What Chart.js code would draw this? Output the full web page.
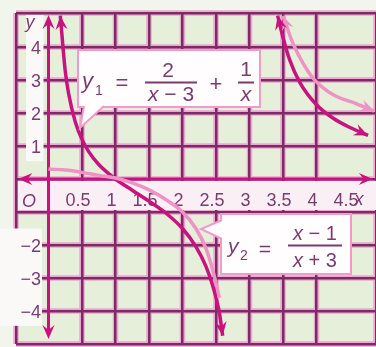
<!DOCTYPE html>
<html>
<head>
<meta charset="utf-8">
<script src="https://cdn.jsdelivr.net/npm/chart.js@4.4.1/dist/chart.umd.min.js"></script>
<style>
  html, body { margin: 0; padding: 0; background: #f1f5ec; }
  canvas { display: block; }
</style>
</head>
<body>
<canvas id="graph" width="376" height="347"></canvas>
<script>
// tick labels
const xTickValues = [0.5, 1, 1.5, 2, 2.5, 3, 3.5, 4, 4.5];
const xTickLabels = ["0.5", "1", "1.5", "2", "2.5", "3", "3.5", "4", "4.5"];
const yTickValues = [4, 3, 2, 1, -2, -3, -4];
const yTickLabels = ["4", "3", "2", "1", "\u22122", "\u22123", "\u22124"];

// axis extents (arrow tips)
const xAxisEnds = [-0.45, 4.84];
const yAxisEnds = [-4.85, 4.97];

// dark curve, y1 (two branches)
const y1LeftX = [0.176, 0.25, 0.3, 0.4, 0.5, 0.6, 0.75, 1, 1.25, 1.5, 1.75, 2, 2.2, 2.35, 2.45, 2.55, 2.6];
const y1LeftY = [4.95, 3.27, 2.59, 1.73, 1.2, 0.83, 0.44, 0, -0.34, -0.67, -1.03, -1.5, -2.05, -2.65, -3.23, -4.05, -4.75];
const y1RightX = [3.42, 3.5, 3.6, 3.75, 4, 4.25, 4.5, 4.77];
const y1RightY = [4.95, 4.29, 3.61, 2.93, 2.25, 1.84, 1.56, 1.32];

// light pink curve (two branches)
const pinkLeftX = [0, 0.25, 0.5, 0.75, 1, 1.25, 1.5, 1.75, 2, 2.2, 2.35, 2.45, 2.55];
const pinkLeftY = [0.3, 0.27, 0.2, 0.11, 0.03, -0.12, -0.33, -0.62, -1.0, -1.5, -2.1, -2.75, -3.6];
const pinkRightX = [3.5, 3.65, 3.8, 3.95, 4.25, 4.6, 4.86];
const pinkRightY = [4.94, 4.1, 3.5, 3.05, 2.55, 2.28, 2.06];

const COL = {
  page: '#f1f5ec', cell: '#e5efda', grid: '#7c2b64', halo: '#eaa7d1', axis: '#c8137f',
  dark: '#c8137f', pink: '#ef93c4', text: '#7b3b71',
  strip: '#f9eff5', label: '#fbf8f8', box: '#fffdfe', boxEdge: '#ef9ccb'
};
const NUM_FONT = '"Liberation Sans Narrow", "Liberation Sans", Arial, sans-serif';
const EQ_FONT = '"Liberation Sans", Arial, sans-serif';

function pts(xs, ys) { return xs.map((x, i) => ({ x: x, y: ys[i] })); }

function arrowHead(ctx, x0, y0, x1, y1, color) {
  const a = Math.atan2(y1 - y0, x1 - x0);
  const len = 14, half = 6;
  ctx.save();
  ctx.translate(x1, y1);
  ctx.rotate(a);
  ctx.fillStyle = color;
  ctx.beginPath();
  ctx.moveTo(0, 0);
  ctx.lineTo(-len, -half);
  ctx.lineTo(-len * 0.65, 0);
  ctx.lineTo(-len, half);
  ctx.closePath();
  ctx.fill();
  ctx.restore();
}

function centered(ctx, parts, cx, base) {
  // parts: [text, font]
  let w = 0;
  parts.forEach(p => { ctx.font = p[1]; w += ctx.measureText(p[0]).width; });
  let x = cx - w / 2;
  ctx.textAlign = 'left';
  parts.forEach(p => { ctx.font = p[1]; ctx.fillText(p[0], x, base); x += ctx.measureText(p[0]).width; });
}

function callout(ctx, box, tail) {
  ctx.save();
  ctx.fillStyle = COL.box;
  ctx.strokeStyle = COL.boxEdge;
  ctx.lineWidth = 2;
  ctx.fillRect(box[0], box[1], box[2], box[3]);
  ctx.strokeRect(box[0], box[1], box[2], box[3]);
  ctx.beginPath();
  ctx.moveTo(tail[0][0], tail[0][1]);
  ctx.lineTo(tail[1][0], tail[1][1]);
  ctx.lineTo(tail[2][0], tail[2][1]);
  ctx.fill();
  ctx.stroke();
  ctx.restore();
}

const backdrop = {
  id: 'backdrop',
  beforeDraw(chart) {
    const { ctx, chartArea: a, scales: { x, y } } = chart;
    ctx.save();
    ctx.fillStyle = COL.page;
    ctx.fillRect(0, 0, chart.width, chart.height);
    ctx.fillStyle = COL.cell;
    ctx.fillRect(a.left, a.top, a.right - a.left, a.bottom - a.top);
    // pink glow under the grid lines
    ctx.strokeStyle = COL.halo;
    ctx.lineWidth = 5.5;
    ctx.beginPath();
    x.ticks.forEach(t => { const p = x.getPixelForValue(t.value); ctx.moveTo(p, a.top); ctx.lineTo(p, a.bottom); });
    y.ticks.forEach(t => { const p = y.getPixelForValue(t.value); ctx.moveTo(a.left, p); ctx.lineTo(a.right, p); });
    ctx.stroke();
    ctx.restore();
  },
  beforeDatasetsDraw(chart) {
    const { ctx, chartArea: a, scales: { x, y } } = chart;
    const x0 = x.getPixelForValue(0), y0 = y.getPixelForValue(0);
    const ym1 = y.getPixelForValue(-1);
    ctx.save();
    // label strip under the x axis
    ctx.fillStyle = COL.strip;
    ctx.fillRect(a.left + 2, y0 + 2, a.right - a.left, ym1 - y0 - 4);
    // label column for positive y
    ctx.fillStyle = COL.label;
    ctx.fillRect(26, a.top + 2, x0 - 31, y.getPixelForValue(0.6) - a.top);
    // label box for negative y
    ctx.fillRect(0, y.getPixelForValue(-1.5), 42, y.getPixelForValue(-4.45) - y.getPixelForValue(-1.5));

    // axes
    ctx.strokeStyle = COL.axis;
    ctx.lineWidth = 3;
    const xl = x.getPixelForValue(xAxisEnds[0]), xr = x.getPixelForValue(xAxisEnds[1]);
    const yb = y.getPixelForValue(yAxisEnds[0]), yt = y.getPixelForValue(yAxisEnds[1]);
    ctx.beginPath();
    ctx.moveTo(xl + 6, y0); ctx.lineTo(xr - 6, y0);
    ctx.moveTo(x0, yb - 6); ctx.lineTo(x0, yt + 6);
    ctx.stroke();
    arrowHead(ctx, xr - 10, y0, xr, y0, COL.axis);
    arrowHead(ctx, xl + 10, y0, xl, y0, COL.axis);
    arrowHead(ctx, x0, yt + 10, x0, yt, COL.axis);
    arrowHead(ctx, x0, yb - 10, x0, yb, COL.axis);

    // tick labels
    ctx.fillStyle = COL.text;
    ctx.textBaseline = 'alphabetic';
    ctx.font = '18px ' + NUM_FONT;
    ctx.textAlign = 'center';
    xTickValues.forEach((v, i) => {
      ctx.fillText(xTickLabels[i], x.getPixelForValue(v) - 4, y0 + 27);
    });
    ctx.textAlign = 'right';
    yTickValues.forEach((v, i) => {
      ctx.fillText(yTickLabels[i], 41, y.getPixelForValue(v) + 7);
    });
    ctx.textAlign = 'center';
    ctx.font = 'italic 18px ' + NUM_FONT;
    ctx.fillText('O', 29, y0 + 28);
    ctx.fillText('x', 359, y0 + 26);
    ctx.fillText('y', 30, a.top + 15);
    ctx.restore();
  },
  afterDatasetsDraw(chart) {
    const { ctx, scales: { x, y } } = chart;
    ctx.save();
    // arrow heads on curve ends
    chart.data.datasets.forEach(ds => {
      const d = ds.data, n = d.length;
      const px = p => [x.getPixelForValue(p.x), y.getPixelForValue(p.y)];
      if (ds.arrowStart) {
        const a = px(d[0]), b = px(d[1]);
        arrowHead(ctx, b[0], b[1], a[0], a[1], ds.borderColor);
      }
      if (ds.arrowEnd) {
        const a = px(d[n - 1]), b = px(d[n - 2]);
        arrowHead(ctx, b[0], b[1], a[0], a[1], ds.borderColor);
      }
    });

    // callout for y1
    callout(ctx, [78, 50, 182, 57], [[84, 106], [80, 128], [104, 106]]);
    ctx.fillStyle = COL.text;
    ctx.strokeStyle = COL.text;
    ctx.textAlign = 'left';
    ctx.font = 'italic 22px ' + EQ_FONT;
    ctx.fillText('y', 82, 88);
    ctx.font = '14px ' + EQ_FONT;
    ctx.fillText('1', 95, 95);
    ctx.font = '22px ' + EQ_FONT;
    ctx.textAlign = 'center';
    ctx.fillText('=', 122, 90);
    ctx.fillText('+', 216, 91);
    ctx.lineWidth = 2;
    ctx.beginPath();
    ctx.moveTo(145, 82.5); ctx.lineTo(197, 82.5);
    ctx.moveTo(238, 82.5); ctx.lineTo(254, 82.5);
    ctx.stroke();
    ctx.font = '21px ' + EQ_FONT;
    ctx.fillText('2', 168, 77);
    ctx.fillText('1', 246, 76);
    centered(ctx, [['x', 'italic 21px ' + EQ_FONT], [' \u2212 3', '21px ' + EQ_FONT]], 171, 101);
    centered(ctx, [['x', 'italic 21px ' + EQ_FONT]], 246, 101);

    // callout for y2
    callout(ctx, [221, 214, 130, 60], [[222, 220], [201, 229], [222, 239]]);
    ctx.fillStyle = COL.text;
    ctx.strokeStyle = COL.text;
    ctx.textAlign = 'left';
    ctx.font = 'italic 21px ' + EQ_FONT;
    ctx.fillText('y', 228, 253);
    ctx.font = '14px ' + EQ_FONT;
    ctx.fillText('2', 240, 260);
    ctx.font = '21px ' + EQ_FONT;
    ctx.textAlign = 'center';
    ctx.fillText('=', 265, 256);
    ctx.lineWidth = 2;
    ctx.beginPath();
    ctx.moveTo(288, 245.5); ctx.lineTo(342, 245.5);
    ctx.stroke();
    centered(ctx, [['x', 'italic 20px ' + EQ_FONT], [' \u2212 1', '20px ' + EQ_FONT]], 315, 240);
    centered(ctx, [['x', 'italic 20px ' + EQ_FONT], [' + 3', '20px ' + EQ_FONT]], 315, 267);
    ctx.restore();
  }
};

const lineStyle = {
  showLine: true,
  pointRadius: 0,
  borderWidth: 3.5,
  cubicInterpolationMode: 'monotone',
  fill: false
};

new Chart(document.getElementById('graph'), {
  type: 'scatter',
  data: {
    datasets: [
      Object.assign({ label: 'pink left', data: pts(pinkLeftX, pinkLeftY), borderColor: COL.pink }, lineStyle),
      Object.assign({ label: 'pink right', data: pts(pinkRightX, pinkRightY), borderColor: COL.pink, arrowStart: true, arrowEnd: true }, lineStyle),
      Object.assign({ label: 'y1 left', data: pts(y1LeftX, y1LeftY), borderColor: COL.dark, arrowStart: true, arrowEnd: true }, lineStyle),
      Object.assign({ label: 'y1 right', data: pts(y1RightX, y1RightY), borderColor: COL.dark, arrowStart: true, arrowEnd: true }, lineStyle)
    ]
  },
  options: {
    responsive: false,
    animation: false,
    devicePixelRatio: 1,
    layout: { padding: { left: 16, top: 13, right: 0, bottom: 3 } },
    plugins: { legend: { display: false }, tooltip: { enabled: false } },
    scales: {
      x: {
        type: 'linear',
        min: -0.485,
        max: 4.888,
        ticks: { display: false, stepSize: 0.5 },
        grid: { color: COL.grid, lineWidth: 2.5, drawTicks: false },
        border: { display: false },
        afterFit: s => { s.height = 0; }
      },
      y: {
        type: 'linear',
        min: -5,
        max: 5.03,
        ticks: { display: false, stepSize: 1 },
        grid: { color: COL.grid, lineWidth: 2.5, drawTicks: false },
        border: { display: false },
        afterFit: s => { s.width = 0; }
      }
    }
  },
  plugins: [backdrop]
});
</script>
</body>
</html>
